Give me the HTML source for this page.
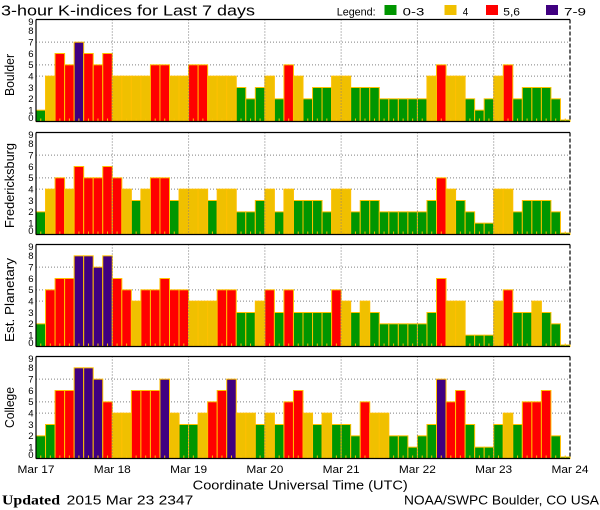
<!DOCTYPE html>
<html><head><meta charset="utf-8"><style>
html,body{margin:0;padding:0;background:#fff;width:600px;height:510px;overflow:hidden}
svg{display:block}
text{font-family:"Liberation Sans",sans-serif;fill:#000}
.g{fill:#009600}.y{fill:#f0c000}.r{fill:#ff0000}.p{fill:#400080}
.bars rect{stroke:#ffc000;stroke-width:1}
.hg{stroke:#808080;stroke-width:1;stroke-dasharray:1,2}
.vg{stroke:#7a7a7a;stroke-width:1;stroke-dasharray:1,2}
.ax{stroke:#000;stroke-width:1.2}
.axd{stroke:#000;stroke-width:1.2;stroke-dasharray:4,2}
.tk{stroke:#ffc000;stroke-width:1;fill:none}
.yl{font-size:9.5px}
.pn{font-size:13px}
</style></head><body>
<svg width="600" height="510" viewBox="0 0 600 510" xmlns="http://www.w3.org/2000/svg">
<defs>
<path id="ticks" class="tk" d="M40.77 -0.5v-2.5M50.31 -0.5v-2.5M59.84 -0.5v-2.5M69.38 -0.5v-2.5M78.91 -0.5v-2.5M88.45 -0.5v-2.5M97.98 -0.5v-2.5M107.52 -0.5v-2.5M117.06 -0.5v-2.5M126.59 -0.5v-2.5M136.13 -0.5v-2.5M145.66 -0.5v-2.5M155.2 -0.5v-2.5M164.73 -0.5v-2.5M174.27 -0.5v-2.5M183.81 -0.5v-2.5M193.34 -0.5v-2.5M202.88 -0.5v-2.5M212.41 -0.5v-2.5M221.95 -0.5v-2.5M231.48 -0.5v-2.5M241.02 -0.5v-2.5M250.56 -0.5v-2.5M260.09 -0.5v-2.5M269.63 -0.5v-2.5M279.16 -0.5v-2.5M288.7 -0.5v-2.5M298.23 -0.5v-2.5M307.77 -0.5v-2.5M317.31 -0.5v-2.5M326.84 -0.5v-2.5M336.38 -0.5v-2.5M345.91 -0.5v-2.5M355.45 -0.5v-2.5M364.98 -0.5v-2.5M374.52 -0.5v-2.5M384.06 -0.5v-2.5M393.59 -0.5v-2.5M403.13 -0.5v-2.5M412.66 -0.5v-2.5M422.2 -0.5v-2.5M431.73 -0.5v-2.5M441.27 -0.5v-2.5M450.81 -0.5v-2.5M460.34 -0.5v-2.5M469.88 -0.5v-2.5M479.41 -0.5v-2.5M488.95 -0.5v-2.5M498.48 -0.5v-2.5M508.02 -0.5v-2.5M517.56 -0.5v-2.5M527.09 -0.5v-2.5M536.63 -0.5v-2.5M546.16 -0.5v-2.5M555.7 -0.5v-2.5M565.23 -0.5v-2.5"/>
<g id="hgrid">
<line class="hg" x1="36" y1="-45.33" x2="570" y2="-45.33"/>
<line class="hg" x1="36" y1="-56.67" x2="570" y2="-56.67"/>
<line class="hg" x1="36" y1="-79.33" x2="570" y2="-79.33"/>
</g>
<g id="frame">
<line class="vg" x1="112.29" y1="-102" x2="112.29" y2="0"/>
<line class="vg" x1="188.57" y1="-102" x2="188.57" y2="0"/>
<line class="vg" x1="264.86" y1="-102" x2="264.86" y2="0"/>
<line class="vg" x1="341.14" y1="-102" x2="341.14" y2="0"/>
<line class="vg" x1="417.43" y1="-102" x2="417.43" y2="0"/>
<line class="vg" x1="493.71" y1="-102" x2="493.71" y2="0"/>
<line class="ax" x1="36" y1="-102" x2="570" y2="-102"/>
<line class="ax" x1="36" y1="0" x2="570" y2="0"/>
<line class="ax" x1="36" y1="-102" x2="36" y2="0"/>
<line class="axd" x1="570" y1="-102" x2="570" y2="0"/>
</g>
</defs>

<!-- Title & legend -->
<text x="1" y="15.5" font-size="15" textLength="254" lengthAdjust="spacingAndGlyphs">3-hour K-indices for Last 7 days</text>
<text x="336.7" y="15.3" font-size="11" textLength="39" lengthAdjust="spacingAndGlyphs">Legend:</text>
<rect x="384.5" y="5" width="12" height="10" class="g"/>
<text x="402.7" y="15.3" font-size="11" textLength="21.6" lengthAdjust="spacingAndGlyphs">0-3</text>
<rect x="444.5" y="5" width="12" height="10" class="y"/>
<text x="462.7" y="15.3" font-size="11" textLength="5.5" lengthAdjust="spacingAndGlyphs">4</text>
<rect x="486" y="5" width="12" height="10" class="r"/>
<text x="503.3" y="15.3" font-size="11" textLength="16.7" lengthAdjust="spacingAndGlyphs">5,6</text>
<rect x="546" y="5" width="12" height="10" class="p"/>
<text x="564" y="15.3" font-size="11" textLength="22" lengthAdjust="spacingAndGlyphs">7-9</text>

<!-- Panel 1: Boulder -->
<g transform="translate(0,121.5)">
<use href="#hgrid"/>
<g class="bars">
<rect class="g" x="36" y="-11.33" width="9.54" height="11.33"/>
<rect class="y" x="45.54" y="-45.33" width="9.54" height="45.33"/>
<rect class="r" x="55.07" y="-68" width="9.54" height="68"/>
<rect class="r" x="64.61" y="-56.67" width="9.54" height="56.67"/>
<rect class="p" x="74.14" y="-79.33" width="9.54" height="79.33"/>
<rect class="r" x="83.68" y="-68" width="9.54" height="68"/>
<rect class="r" x="93.21" y="-56.67" width="9.54" height="56.67"/>
<rect class="r" x="102.75" y="-68" width="9.54" height="68"/>
<rect class="y" x="112.29" y="-45.33" width="9.54" height="45.33"/>
<rect class="y" x="121.82" y="-45.33" width="9.54" height="45.33"/>
<rect class="y" x="131.36" y="-45.33" width="9.54" height="45.33"/>
<rect class="y" x="140.89" y="-45.33" width="9.54" height="45.33"/>
<rect class="r" x="150.43" y="-56.67" width="9.54" height="56.67"/>
<rect class="r" x="159.96" y="-56.67" width="9.54" height="56.67"/>
<rect class="y" x="169.5" y="-45.33" width="9.54" height="45.33"/>
<rect class="y" x="179.04" y="-45.33" width="9.54" height="45.33"/>
<rect class="r" x="188.57" y="-56.67" width="9.54" height="56.67"/>
<rect class="r" x="198.11" y="-56.67" width="9.54" height="56.67"/>
<rect class="y" x="207.64" y="-45.33" width="9.54" height="45.33"/>
<rect class="y" x="217.18" y="-45.33" width="9.54" height="45.33"/>
<rect class="y" x="226.71" y="-45.33" width="9.54" height="45.33"/>
<rect class="g" x="236.25" y="-34" width="9.54" height="34"/>
<rect class="g" x="245.79" y="-22.67" width="9.54" height="22.67"/>
<rect class="g" x="255.32" y="-34" width="9.54" height="34"/>
<rect class="y" x="264.86" y="-45.33" width="9.54" height="45.33"/>
<rect class="g" x="274.39" y="-22.67" width="9.54" height="22.67"/>
<rect class="r" x="283.93" y="-56.67" width="9.54" height="56.67"/>
<rect class="y" x="293.46" y="-45.33" width="9.54" height="45.33"/>
<rect class="g" x="303" y="-22.67" width="9.54" height="22.67"/>
<rect class="g" x="312.54" y="-34" width="9.54" height="34"/>
<rect class="g" x="322.07" y="-34" width="9.54" height="34"/>
<rect class="y" x="331.61" y="-45.33" width="9.54" height="45.33"/>
<rect class="y" x="341.14" y="-45.33" width="9.54" height="45.33"/>
<rect class="g" x="350.68" y="-34" width="9.54" height="34"/>
<rect class="g" x="360.21" y="-34" width="9.54" height="34"/>
<rect class="g" x="369.75" y="-34" width="9.54" height="34"/>
<rect class="g" x="379.29" y="-22.67" width="9.54" height="22.67"/>
<rect class="g" x="388.82" y="-22.67" width="9.54" height="22.67"/>
<rect class="g" x="398.36" y="-22.67" width="9.54" height="22.67"/>
<rect class="g" x="407.89" y="-22.67" width="9.54" height="22.67"/>
<rect class="g" x="417.43" y="-22.67" width="9.54" height="22.67"/>
<rect class="y" x="426.96" y="-45.33" width="9.54" height="45.33"/>
<rect class="r" x="436.5" y="-56.67" width="9.54" height="56.67"/>
<rect class="y" x="446.04" y="-45.33" width="9.54" height="45.33"/>
<rect class="y" x="455.57" y="-45.33" width="9.54" height="45.33"/>
<rect class="g" x="465.11" y="-22.67" width="9.54" height="22.67"/>
<rect class="g" x="474.64" y="-11.33" width="9.54" height="11.33"/>
<rect class="g" x="484.18" y="-22.67" width="9.54" height="22.67"/>
<rect class="y" x="493.71" y="-45.33" width="9.54" height="45.33"/>
<rect class="r" x="503.25" y="-56.67" width="9.54" height="56.67"/>
<rect class="g" x="512.79" y="-22.67" width="9.54" height="22.67"/>
<rect class="g" x="522.32" y="-34" width="9.54" height="34"/>
<rect class="g" x="531.86" y="-34" width="9.54" height="34"/>
<rect class="g" x="541.39" y="-34" width="9.54" height="34"/>
<rect class="g" x="550.93" y="-22.67" width="9.54" height="22.67"/>
<rect class="g" x="560.46" y="-1.5" width="9.54" height="1.5"/>
</g>
<use href="#ticks"/>
<use href="#frame"/>
<g class="yl" text-anchor="end">
<text x="33.5" y="-0.3">0</text><text x="33.5" y="-8">1</text><text x="33.5" y="-19.4">2</text><text x="33.5" y="-30.7">3</text><text x="33.5" y="-42">4</text><text x="33.5" y="-53.4">5</text><text x="33.5" y="-64.7">6</text><text x="33.5" y="-76">7</text><text x="33.5" y="-87.4">8</text><text x="33.5" y="-96.3">9</text>
</g>
<text class="pn" transform="translate(14,-46.5) rotate(-90)" text-anchor="middle" textLength="42" lengthAdjust="spacingAndGlyphs">Boulder</text>
</g>

<!-- Panel 2: Fredericksburg -->
<g transform="translate(0,234.5)">
<use href="#hgrid"/>
<g class="bars">
<rect class="g" x="36" y="-22.67" width="9.54" height="22.67"/>
<rect class="y" x="45.54" y="-45.33" width="9.54" height="45.33"/>
<rect class="r" x="55.07" y="-56.67" width="9.54" height="56.67"/>
<rect class="y" x="64.61" y="-45.33" width="9.54" height="45.33"/>
<rect class="r" x="74.14" y="-68" width="9.54" height="68"/>
<rect class="r" x="83.68" y="-56.67" width="9.54" height="56.67"/>
<rect class="r" x="93.21" y="-56.67" width="9.54" height="56.67"/>
<rect class="r" x="102.75" y="-68" width="9.54" height="68"/>
<rect class="r" x="112.29" y="-56.67" width="9.54" height="56.67"/>
<rect class="y" x="121.82" y="-45.33" width="9.54" height="45.33"/>
<rect class="g" x="131.36" y="-34" width="9.54" height="34"/>
<rect class="y" x="140.89" y="-45.33" width="9.54" height="45.33"/>
<rect class="r" x="150.43" y="-56.67" width="9.54" height="56.67"/>
<rect class="r" x="159.96" y="-56.67" width="9.54" height="56.67"/>
<rect class="g" x="169.5" y="-34" width="9.54" height="34"/>
<rect class="y" x="179.04" y="-45.33" width="9.54" height="45.33"/>
<rect class="y" x="188.57" y="-45.33" width="9.54" height="45.33"/>
<rect class="y" x="198.11" y="-45.33" width="9.54" height="45.33"/>
<rect class="g" x="207.64" y="-34" width="9.54" height="34"/>
<rect class="y" x="217.18" y="-45.33" width="9.54" height="45.33"/>
<rect class="y" x="226.71" y="-45.33" width="9.54" height="45.33"/>
<rect class="g" x="236.25" y="-22.67" width="9.54" height="22.67"/>
<rect class="g" x="245.79" y="-22.67" width="9.54" height="22.67"/>
<rect class="g" x="255.32" y="-34" width="9.54" height="34"/>
<rect class="y" x="264.86" y="-45.33" width="9.54" height="45.33"/>
<rect class="g" x="274.39" y="-22.67" width="9.54" height="22.67"/>
<rect class="y" x="283.93" y="-45.33" width="9.54" height="45.33"/>
<rect class="g" x="293.46" y="-34" width="9.54" height="34"/>
<rect class="g" x="303" y="-34" width="9.54" height="34"/>
<rect class="g" x="312.54" y="-34" width="9.54" height="34"/>
<rect class="g" x="322.07" y="-22.67" width="9.54" height="22.67"/>
<rect class="y" x="331.61" y="-45.33" width="9.54" height="45.33"/>
<rect class="y" x="341.14" y="-45.33" width="9.54" height="45.33"/>
<rect class="g" x="350.68" y="-22.67" width="9.54" height="22.67"/>
<rect class="g" x="360.21" y="-34" width="9.54" height="34"/>
<rect class="g" x="369.75" y="-34" width="9.54" height="34"/>
<rect class="g" x="379.29" y="-22.67" width="9.54" height="22.67"/>
<rect class="g" x="388.82" y="-22.67" width="9.54" height="22.67"/>
<rect class="g" x="398.36" y="-22.67" width="9.54" height="22.67"/>
<rect class="g" x="407.89" y="-22.67" width="9.54" height="22.67"/>
<rect class="g" x="417.43" y="-22.67" width="9.54" height="22.67"/>
<rect class="g" x="426.96" y="-34" width="9.54" height="34"/>
<rect class="r" x="436.5" y="-56.67" width="9.54" height="56.67"/>
<rect class="y" x="446.04" y="-45.33" width="9.54" height="45.33"/>
<rect class="g" x="455.57" y="-34" width="9.54" height="34"/>
<rect class="g" x="465.11" y="-22.67" width="9.54" height="22.67"/>
<rect class="g" x="474.64" y="-11.33" width="9.54" height="11.33"/>
<rect class="g" x="484.18" y="-11.33" width="9.54" height="11.33"/>
<rect class="y" x="493.71" y="-45.33" width="9.54" height="45.33"/>
<rect class="y" x="503.25" y="-45.33" width="9.54" height="45.33"/>
<rect class="g" x="512.79" y="-22.67" width="9.54" height="22.67"/>
<rect class="g" x="522.32" y="-34" width="9.54" height="34"/>
<rect class="g" x="531.86" y="-34" width="9.54" height="34"/>
<rect class="g" x="541.39" y="-34" width="9.54" height="34"/>
<rect class="g" x="550.93" y="-22.67" width="9.54" height="22.67"/>
<rect class="g" x="560.46" y="-1.5" width="9.54" height="1.5"/>
</g>
<use href="#ticks"/>
<use href="#frame"/>
<g class="yl" text-anchor="end">
<text x="33.5" y="-0.3">0</text><text x="33.5" y="-8">1</text><text x="33.5" y="-19.4">2</text><text x="33.5" y="-30.7">3</text><text x="33.5" y="-42">4</text><text x="33.5" y="-53.4">5</text><text x="33.5" y="-64.7">6</text><text x="33.5" y="-76">7</text><text x="33.5" y="-87.4">8</text><text x="33.5" y="-96.3">9</text>
</g>
<text class="pn" transform="translate(14,-49) rotate(-90)" text-anchor="middle" textLength="85" lengthAdjust="spacingAndGlyphs">Fredericksburg</text>
</g>

<!-- Panel 3: Est. Planetary -->
<g transform="translate(0,346.5)">
<use href="#hgrid"/>
<g class="bars">
<rect class="g" x="36" y="-22.67" width="9.54" height="22.67"/>
<rect class="r" x="45.54" y="-56.67" width="9.54" height="56.67"/>
<rect class="r" x="55.07" y="-68" width="9.54" height="68"/>
<rect class="r" x="64.61" y="-68" width="9.54" height="68"/>
<rect class="p" x="74.14" y="-90.67" width="9.54" height="90.67"/>
<rect class="p" x="83.68" y="-90.67" width="9.54" height="90.67"/>
<rect class="p" x="93.21" y="-79.33" width="9.54" height="79.33"/>
<rect class="p" x="102.75" y="-90.67" width="9.54" height="90.67"/>
<rect class="r" x="112.29" y="-68" width="9.54" height="68"/>
<rect class="r" x="121.82" y="-56.67" width="9.54" height="56.67"/>
<rect class="y" x="131.36" y="-45.33" width="9.54" height="45.33"/>
<rect class="r" x="140.89" y="-56.67" width="9.54" height="56.67"/>
<rect class="r" x="150.43" y="-56.67" width="9.54" height="56.67"/>
<rect class="r" x="159.96" y="-68" width="9.54" height="68"/>
<rect class="r" x="169.5" y="-56.67" width="9.54" height="56.67"/>
<rect class="r" x="179.04" y="-56.67" width="9.54" height="56.67"/>
<rect class="y" x="188.57" y="-45.33" width="9.54" height="45.33"/>
<rect class="y" x="198.11" y="-45.33" width="9.54" height="45.33"/>
<rect class="y" x="207.64" y="-45.33" width="9.54" height="45.33"/>
<rect class="r" x="217.18" y="-56.67" width="9.54" height="56.67"/>
<rect class="r" x="226.71" y="-56.67" width="9.54" height="56.67"/>
<rect class="g" x="236.25" y="-34" width="9.54" height="34"/>
<rect class="g" x="245.79" y="-34" width="9.54" height="34"/>
<rect class="y" x="255.32" y="-45.33" width="9.54" height="45.33"/>
<rect class="r" x="264.86" y="-56.67" width="9.54" height="56.67"/>
<rect class="g" x="274.39" y="-34" width="9.54" height="34"/>
<rect class="r" x="283.93" y="-56.67" width="9.54" height="56.67"/>
<rect class="g" x="293.46" y="-34" width="9.54" height="34"/>
<rect class="g" x="303" y="-34" width="9.54" height="34"/>
<rect class="g" x="312.54" y="-34" width="9.54" height="34"/>
<rect class="g" x="322.07" y="-34" width="9.54" height="34"/>
<rect class="r" x="331.61" y="-56.67" width="9.54" height="56.67"/>
<rect class="y" x="341.14" y="-45.33" width="9.54" height="45.33"/>
<rect class="g" x="350.68" y="-34" width="9.54" height="34"/>
<rect class="y" x="360.21" y="-45.33" width="9.54" height="45.33"/>
<rect class="g" x="369.75" y="-34" width="9.54" height="34"/>
<rect class="g" x="379.29" y="-22.67" width="9.54" height="22.67"/>
<rect class="g" x="388.82" y="-22.67" width="9.54" height="22.67"/>
<rect class="g" x="398.36" y="-22.67" width="9.54" height="22.67"/>
<rect class="g" x="407.89" y="-22.67" width="9.54" height="22.67"/>
<rect class="g" x="417.43" y="-22.67" width="9.54" height="22.67"/>
<rect class="g" x="426.96" y="-34" width="9.54" height="34"/>
<rect class="r" x="436.5" y="-68" width="9.54" height="68"/>
<rect class="y" x="446.04" y="-45.33" width="9.54" height="45.33"/>
<rect class="y" x="455.57" y="-45.33" width="9.54" height="45.33"/>
<rect class="g" x="465.11" y="-11.33" width="9.54" height="11.33"/>
<rect class="g" x="474.64" y="-11.33" width="9.54" height="11.33"/>
<rect class="g" x="484.18" y="-11.33" width="9.54" height="11.33"/>
<rect class="y" x="493.71" y="-45.33" width="9.54" height="45.33"/>
<rect class="r" x="503.25" y="-56.67" width="9.54" height="56.67"/>
<rect class="g" x="512.79" y="-34" width="9.54" height="34"/>
<rect class="g" x="522.32" y="-34" width="9.54" height="34"/>
<rect class="y" x="531.86" y="-45.33" width="9.54" height="45.33"/>
<rect class="g" x="541.39" y="-34" width="9.54" height="34"/>
<rect class="g" x="550.93" y="-22.67" width="9.54" height="22.67"/>
<rect class="g" x="560.46" y="-1.5" width="9.54" height="1.5"/>
</g>
<use href="#ticks"/>
<use href="#frame"/>
<g class="yl" text-anchor="end">
<text x="33.5" y="-0.3">0</text><text x="33.5" y="-8">1</text><text x="33.5" y="-19.4">2</text><text x="33.5" y="-30.7">3</text><text x="33.5" y="-42">4</text><text x="33.5" y="-53.4">5</text><text x="33.5" y="-64.7">6</text><text x="33.5" y="-76">7</text><text x="33.5" y="-87.4">8</text><text x="33.5" y="-96.3">9</text>
</g>
<text class="pn" transform="translate(14,-46.5) rotate(-90)" text-anchor="middle" textLength="84" lengthAdjust="spacingAndGlyphs">Est. Planetary</text>
</g>

<!-- Panel 4: College -->
<g transform="translate(0,458.5)">
<use href="#hgrid"/>
<g class="bars">
<rect class="g" x="36" y="-22.67" width="9.54" height="22.67"/>
<rect class="g" x="45.54" y="-34" width="9.54" height="34"/>
<rect class="r" x="55.07" y="-68" width="9.54" height="68"/>
<rect class="r" x="64.61" y="-68" width="9.54" height="68"/>
<rect class="p" x="74.14" y="-90.67" width="9.54" height="90.67"/>
<rect class="p" x="83.68" y="-90.67" width="9.54" height="90.67"/>
<rect class="p" x="93.21" y="-79.33" width="9.54" height="79.33"/>
<rect class="r" x="102.75" y="-56.67" width="9.54" height="56.67"/>
<rect class="y" x="112.29" y="-45.33" width="9.54" height="45.33"/>
<rect class="y" x="121.82" y="-45.33" width="9.54" height="45.33"/>
<rect class="r" x="131.36" y="-68" width="9.54" height="68"/>
<rect class="r" x="140.89" y="-68" width="9.54" height="68"/>
<rect class="r" x="150.43" y="-68" width="9.54" height="68"/>
<rect class="p" x="159.96" y="-79.33" width="9.54" height="79.33"/>
<rect class="y" x="169.5" y="-45.33" width="9.54" height="45.33"/>
<rect class="g" x="179.04" y="-34" width="9.54" height="34"/>
<rect class="g" x="188.57" y="-34" width="9.54" height="34"/>
<rect class="y" x="198.11" y="-45.33" width="9.54" height="45.33"/>
<rect class="r" x="207.64" y="-56.67" width="9.54" height="56.67"/>
<rect class="r" x="217.18" y="-68" width="9.54" height="68"/>
<rect class="p" x="226.71" y="-79.33" width="9.54" height="79.33"/>
<rect class="y" x="236.25" y="-45.33" width="9.54" height="45.33"/>
<rect class="y" x="245.79" y="-45.33" width="9.54" height="45.33"/>
<rect class="g" x="255.32" y="-34" width="9.54" height="34"/>
<rect class="y" x="264.86" y="-45.33" width="9.54" height="45.33"/>
<rect class="g" x="274.39" y="-34" width="9.54" height="34"/>
<rect class="r" x="283.93" y="-56.67" width="9.54" height="56.67"/>
<rect class="r" x="293.46" y="-68" width="9.54" height="68"/>
<rect class="y" x="303" y="-45.33" width="9.54" height="45.33"/>
<rect class="g" x="312.54" y="-34" width="9.54" height="34"/>
<rect class="y" x="322.07" y="-45.33" width="9.54" height="45.33"/>
<rect class="g" x="331.61" y="-34" width="9.54" height="34"/>
<rect class="g" x="341.14" y="-34" width="9.54" height="34"/>
<rect class="g" x="350.68" y="-22.67" width="9.54" height="22.67"/>
<rect class="r" x="360.21" y="-56.67" width="9.54" height="56.67"/>
<rect class="y" x="369.75" y="-45.33" width="9.54" height="45.33"/>
<rect class="y" x="379.29" y="-45.33" width="9.54" height="45.33"/>
<rect class="g" x="388.82" y="-22.67" width="9.54" height="22.67"/>
<rect class="g" x="398.36" y="-22.67" width="9.54" height="22.67"/>
<rect class="g" x="407.89" y="-11.33" width="9.54" height="11.33"/>
<rect class="g" x="417.43" y="-22.67" width="9.54" height="22.67"/>
<rect class="g" x="426.96" y="-34" width="9.54" height="34"/>
<rect class="p" x="436.5" y="-79.33" width="9.54" height="79.33"/>
<rect class="r" x="446.04" y="-56.67" width="9.54" height="56.67"/>
<rect class="r" x="455.57" y="-68" width="9.54" height="68"/>
<rect class="g" x="465.11" y="-34" width="9.54" height="34"/>
<rect class="g" x="474.64" y="-11.33" width="9.54" height="11.33"/>
<rect class="g" x="484.18" y="-11.33" width="9.54" height="11.33"/>
<rect class="g" x="493.71" y="-34" width="9.54" height="34"/>
<rect class="y" x="503.25" y="-45.33" width="9.54" height="45.33"/>
<rect class="g" x="512.79" y="-34" width="9.54" height="34"/>
<rect class="r" x="522.32" y="-56.67" width="9.54" height="56.67"/>
<rect class="r" x="531.86" y="-56.67" width="9.54" height="56.67"/>
<rect class="r" x="541.39" y="-68" width="9.54" height="68"/>
<rect class="g" x="550.93" y="-22.67" width="9.54" height="22.67"/>
<rect class="g" x="560.46" y="-1.5" width="9.54" height="1.5"/>
</g>
<use href="#ticks"/>
<use href="#frame"/>
<g class="yl" text-anchor="end">
<text x="33.5" y="-0.3">0</text><text x="33.5" y="-8">1</text><text x="33.5" y="-19.4">2</text><text x="33.5" y="-30.7">3</text><text x="33.5" y="-42">4</text><text x="33.5" y="-53.4">5</text><text x="33.5" y="-64.7">6</text><text x="33.5" y="-76">7</text><text x="33.5" y="-87.4">8</text><text x="33.5" y="-96.3">9</text>
</g>
<text class="pn" transform="translate(14,-51) rotate(-90)" text-anchor="middle" textLength="41" lengthAdjust="spacingAndGlyphs">College</text>
</g>

<!-- X axis labels -->
<g font-size="11" text-anchor="middle">
<text x="36" y="473" textLength="37" lengthAdjust="spacingAndGlyphs">Mar 17</text>
<text x="112.3" y="473" textLength="37" lengthAdjust="spacingAndGlyphs">Mar 18</text>
<text x="188.6" y="473" textLength="37" lengthAdjust="spacingAndGlyphs">Mar 19</text>
<text x="264.9" y="473" textLength="37" lengthAdjust="spacingAndGlyphs">Mar 20</text>
<text x="341.1" y="473" textLength="37" lengthAdjust="spacingAndGlyphs">Mar 21</text>
<text x="417.4" y="473" textLength="37" lengthAdjust="spacingAndGlyphs">Mar 22</text>
<text x="493.7" y="473" textLength="37" lengthAdjust="spacingAndGlyphs">Mar 23</text>
<text x="570" y="473" textLength="37" lengthAdjust="spacingAndGlyphs">Mar 24</text>
</g>
<text x="192.7" y="489.5" font-size="13" textLength="215" lengthAdjust="spacingAndGlyphs">Coordinate Universal Time (UTC)</text>
<text x="2" y="504.5" font-size="13.5" font-weight="bold" style="font-family:'Liberation Serif',serif" textLength="58" lengthAdjust="spacingAndGlyphs">Updated</text>
<text x="66.7" y="504.5" font-size="13" textLength="126.6" lengthAdjust="spacingAndGlyphs">2015 Mar 23 2347</text>
<text x="404" y="504.5" font-size="13" textLength="195" lengthAdjust="spacingAndGlyphs">NOAA/SWPC Boulder, CO USA</text>
</svg>
</body></html>
